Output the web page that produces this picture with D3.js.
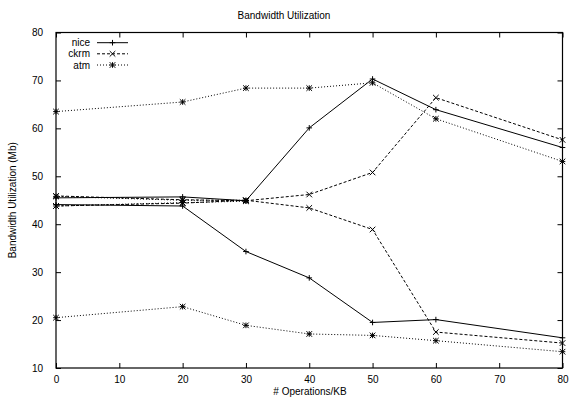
<!DOCTYPE html>
<html>
<head>
<meta charset="utf-8">
<script src="https://cdn.jsdelivr.net/npm/d3@7"></script>
<style>
  html, body { margin: 0; padding: 0; background: #fff; }
  svg { display: block; }
  text { font-family: "Liberation Sans", Arial, sans-serif; fill: #000; }
</style>
</head>
<body>
<svg id="chart" width="569" height="407"></svg>
<script>
// ---- data ----
const xValues = [0, 20, 30, 40, 50, 60, 80];
const niceUpper = [45.5, 45.7, 44.9, 60.1, 70.3, 63.9, 56.0];
const niceLower = [44.1, 43.8, 34.3, 28.8, 19.5, 20.1, 16.3];
const ckrmUpper = [45.9, 45.1, 44.9, 46.2, 50.8, 66.4, 57.6];
const ckrmLower = [43.8, 44.4, 45.0, 43.4, 38.9, 17.5, 15.2];
const atmUpper  = [63.5, 65.5, 68.4, 68.4, 69.5, 62.0, 53.1];
const atmMidUp  = [45.8, 45.0, 45.0];
const atmMidLow = [43.8, 44.5, 44.8];
const atmLower  = [20.5, 22.8, 18.9, 17.1, 16.8, 15.7, 13.4];
const xTicks = [0, 10, 20, 30, 40, 50, 60, 70, 80];
const yTicks = [10, 20, 30, 40, 50, 60, 70, 80];
const seriesNames = ["nice", "ckrm", "atm"];
const titleText = "Bandwidth Utilization";
const xTitle = "# Operations/KB";
const yTitle = "Bandwidth Utilization (Mb)";

const series = [
  { name: "nice", marker: "plus", dash: null, lines: [niceUpper, niceLower] },
  { name: "ckrm", marker: "cross", dash: "3,2", lines: [ckrmUpper, ckrmLower] },
  { name: "atm", marker: "star", dash: "1,2", lines: [atmUpper, atmMidUp, atmMidLow, atmLower] }
];

// ---- layout ----
const svg = d3.select("#chart");
const L = 56, R = 562.5, T = 32.5, B = 368;
const x = d3.scaleLinear().domain([0, 80]).range([L, R]);
const y = d3.scaleLinear().domain([10, 80]).range([B, T]);

// title
svg.append("text").attr("x", 284).attr("y", 19).attr("text-anchor", "middle")
  .attr("font-size", 10).text(titleText);

// axes (ticks inward)
const tickLen = 5;
const gB = svg.append("g").attr("transform", `translate(0,${B})`)
  .call(d3.axisBottom(x).tickValues(xTicks).tickSize(-tickLen).tickPadding(8 + tickLen).tickFormat(d3.format("d")));
const gT = svg.append("g").attr("transform", `translate(0,${T})`)
  .call(d3.axisTop(x).tickValues(xTicks).tickSize(-tickLen).tickFormat(""));
const gL = svg.append("g").attr("transform", `translate(${L},0)`)
  .call(d3.axisLeft(y).tickValues(yTicks).tickSize(-tickLen).tickPadding(8 + tickLen).tickFormat(d3.format("d")));
const gR = svg.append("g").attr("transform", `translate(${R},0)`)
  .call(d3.axisRight(y).tickValues(yTicks).tickSize(-tickLen).tickFormat(""));
[gB, gT, gL, gR].forEach(g => {
  g.select(".domain").remove();
  g.selectAll("line").attr("stroke", "#000").attr("stroke-width", 1);
  g.selectAll("text").attr("font-size", 10).attr("font-family", "Liberation Sans, Arial, sans-serif");
});
gB.selectAll("text").attr("dy", "0.35em").attr("y", 11);
svg.append("rect").attr("x", L).attr("y", T).attr("width", R - L).attr("height", B - T)
  .attr("fill", "none").attr("stroke", "#000").attr("stroke-width", 1.2);

// axis titles
svg.append("text").attr("x", 310).attr("y", 395).attr("text-anchor", "middle")
  .attr("font-size", 10).text(xTitle);
svg.append("text").attr("transform", `translate(16,${(T + B) / 2}) rotate(-90)`)
  .attr("text-anchor", "middle").attr("font-size", 10).text(yTitle);

// markers
function drawMarker(g, kind, cx, cy) {
  const s = 2.8;
  const p = d3.path();
  if (kind === "plus" || kind === "star") {
    p.moveTo(cx - s, cy); p.lineTo(cx + s, cy);
    p.moveTo(cx, cy - s); p.lineTo(cx, cy + s);
  }
  if (kind === "cross" || kind === "star") {
    p.moveTo(cx - s, cy - s); p.lineTo(cx + s, cy + s);
    p.moveTo(cx - s, cy + s); p.lineTo(cx + s, cy - s);
  }
  g.append("path").attr("d", p.toString()).attr("stroke", "#000").attr("stroke-width", 1).attr("fill", "none");
}

const line = d3.line().x((d, i) => x(xValues[i])).y(d => y(d));
const plot = svg.append("g");
series.forEach(s => {
  s.lines.forEach(vals => {
    plot.append("path").datum(vals).attr("d", line)
      .attr("fill", "none").attr("stroke", "#000").attr("stroke-width", 1)
      .attr("stroke-dasharray", s.dash);
    vals.forEach((v, i) => drawMarker(plot, s.marker, x(xValues[i]), y(v)));
  });
});

// legend
const legY = [42.7, 53.8, 65];
series.forEach((s, i) => {
  const g = svg.append("g");
  g.append("text").attr("x", 90).attr("y", legY[i]).attr("dy", "0.35em")
    .attr("text-anchor", "end").attr("font-size", 10).text(s.name);
  g.append("line").attr("x1", 97).attr("x2", 128).attr("y1", legY[i]).attr("y2", legY[i])
    .attr("stroke", "#000").attr("stroke-width", 1).attr("stroke-dasharray", s.dash);
  drawMarker(g, s.marker, 112.5, legY[i]);
});
</script>
</body>
</html>
